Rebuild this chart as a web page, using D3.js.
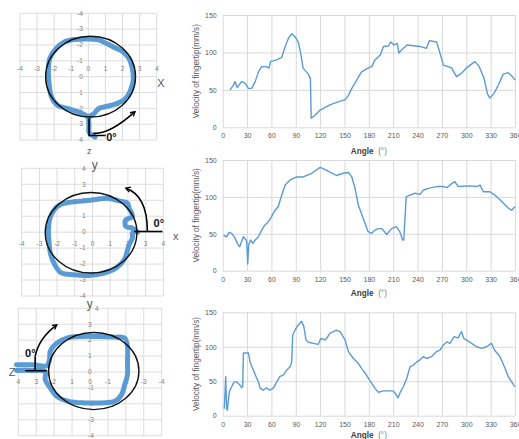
<!DOCTYPE html>
<html>
<head>
<meta charset="utf-8">
<script src="https://cdn.jsdelivr.net/npm/d3@7"></script>
<style>
body { margin: 0; background: #fff; }
text { font-family: "Liberation Sans", Arial, sans-serif; }
</style>
</head>
<body>
<script>
// tick values
var angleTicks = d3.range(0, 361, 30);
var velTicks = [0, 50, 100, 150];
var posTicks = [-4, -3, -2, -1, 0, 1, 2, 3, 4];

// fingertip velocity vs angle, one series per row
var vel1 = [[9,50],[13,56],[15,61],[18,53],[23,61],[27.5,59],[31.6,52],[35.7,52],[40,61],[44,74],[48,81],[54,81],[57,79],[59,88],[66.5,90],[72.7,93.5],[77,108],[81,119],[85,125],[89,121],[93,114],[96,99],[99,79],[105.5,71],[108,65],[109,12],[114,16.5],[120,23],[132,30],[142,34],[151,37],[155,43],[159,52],[165,63],[171,74],[179,79],[183.5,81],[187.6,90],[194,96.5],[198,108],[204,108.6],[207,114],[211,110],[215,112],[217,99],[220,103],[227,110],[243,108],[251,105.5],[254.5,115.7],[263.5,114],[267.6,99],[271.8,83],[278,81],[282,79],[288,67.6],[294,72],[300,79],[304.6,83],[310.8,87.7],[316,81],[322,65],[326,45],[329,39],[334,45],[339.5,56.5],[345.6,71],[351.8,73],[357,67.6],[360,63]];
var vel2 = [[1,48],[5,46],[8,52],[11,50.6],[15,44.7],[18,37],[21,32.5],[23,39],[25.5,46],[28.7,41.6],[29.6,39],[30.8,9],[32,35],[34.5,41.6],[37,37],[40,41.6],[44,46],[48,55],[52,62],[56,66],[60,73],[64.5,82],[68.5,87],[72.7,102.6],[77,116],[83,123],[91,127],[99,127],[109.6,132],[120,140],[128,136],[140,129],[148.6,132],[155,133],[159,127],[163,111.6],[167,89],[173,71],[179,53],[183.5,50.6],[187.6,55],[191.7,57],[196,57],[202,49],[208,57],[214,59.6],[218,53],[221.7,41.6],[223,41.6],[226,100],[231,102.6],[237,105],[243,103.5],[247,109],[253,111.6],[263.5,114],[272,114],[276,112.5],[282,118],[286,120.6],[290,114],[304.6,115],[313,114],[317,116],[321,107],[329,107],[334,103.5],[341.5,96],[348,89],[352,84.5],[356,82],[360,87]];
var vel3 = [[2,10],[3.7,57],[4.9,10],[5.7,8],[8.2,35],[11,42],[14,49],[17.2,49],[21.3,44.5],[23.4,40.6],[24.6,42],[25.5,91],[31.6,91],[33.7,78],[37.8,66],[41,57],[44,49],[46,40],[50,37],[54,40.6],[58,37],[62.4,40],[66.5,49],[70.6,57],[74.7,59],[78.8,66],[83,71],[85,78],[86.2,117],[89,124],[93,131.6],[97.3,137],[100,129],[102.6,110],[105.5,106.5],[111.7,105],[117.8,103.5],[120.7,112],[126,110],[128,112],[132,119.5],[140,124],[144.5,122],[150.7,110],[154.8,93],[161,83],[167,76],[171,68.7],[177,59],[183.5,47],[187.6,39.7],[191.7,34],[198,36],[204,36],[210,36],[214,30],[216,26],[219,35],[222.5,42],[226.6,54],[230.7,71],[234.8,73.5],[239,78],[243,81],[247,85.6],[251,83],[257,85.6],[263.5,93],[267.6,95],[271.8,102.6],[276,107],[280,105],[285,114.7],[290,113],[294,122],[297,112],[300,110],[306.6,105],[312.8,100],[319,97.7],[325,100],[331,105],[335,95],[341.5,85.6],[347.7,68.7],[351.8,56.6],[358,45],[360,42]];

// fingertip trajectories (grid units) and fitted circles
var trace1 = [[0.39,3.82],[0.04,3.5],[0.04,3.08],[0.04,2.55],[0.33,2.33],[0.62,2.01],[1.11,1.87],[1.7,1.69],[2.18,1.38],[2.47,0.85],[2.63,0.21],[2.57,-0.54],[2.37,-1.17],[1.99,-1.59],[1.5,-1.85],[1.01,-2.13],[0.53,-2.34],[-0.16,-2.38],[-0.84,-2.34],[-1.43,-2.17],[-1.91,-1.75],[-2.25,-1.17],[-2.34,-0.43],[-2.3,0.42],[-2.16,1.27],[-1.81,1.8],[-1.23,2.01],[-0.55,2.23],[-0.16,2.44],[0.04,2.63]];
var trace2 = [[2.54,0],[2.26,0.25],[1.88,0.35],[1.88,0.77],[2.26,0.98],[2.07,1.5],[1.98,1.81],[1.5,1.96],[0.85,2.13],[0.28,2.06],[-0.47,1.96],[-1.23,1.88],[-1.79,1.75],[-2.17,1.39],[-2.4,0.88],[-2.49,0.14],[-2.45,-0.69],[-2.36,-1.42],[-2.13,-2.04],[-1.79,-2.53],[-1.04,-2.67],[-0.19,-2.71],[0.66,-2.56],[1.32,-2.25],[1.79,-1.73],[2.07,-0.79],[2.26,-0.36],[2.26,-0.04],[2.54,0.02]];
var trace3 = [[4.1,0.45],[3.2,0.45],[2.4,0.4],[2.25,0.85],[2.22,1.29],[1.85,1.81],[1.29,2.13],[0.46,2.23],[-0.47,2.23],[-1.39,2.19],[-1.94,2.13],[-2.09,1.6],[-2.09,0.66],[-2.09,-0.17],[-1.94,-0.79],[-1.76,-1.42],[-1.39,-1.84],[-0.65,-1.94],[0.28,-1.94],[1.2,-1.84],[1.85,-1.53],[2.22,-1.0],[2.5,-0.48],[2.5,0.02],[3.2,0.1],[4.1,0.1]];
var circle1 = [0.13, 0, 2.63, 2.55];
var circle2 = [-0.08, -0.04, 2.59, 2.52];
var circle3 = [-0.21, 0.06, 2.52, 2.42];

var svg = d3.select("body").append("svg")
  .attr("width", 519)
  .attr("height", 439);

svg.append("defs").append("marker")
  .attr("id", "arrow")
  .attr("viewBox", "0 0 10 10")
  .attr("refX", 8).attr("refY", 5)
  .attr("markerWidth", 4).attr("markerHeight", 4)
  .attr("orient", "auto")
  .append("path")
  .attr("d", "M1,1 L8,5 L1,9")
  .attr("fill", "none")
  .attr("stroke", "#000")
  .attr("stroke-width", 2);

// ---------- left: trajectory panels ----------
var panels = [
  { trace: trace1, circle: circle1, xd: [-4, 4], xr: [20, 156.7], yd: [-4, 4], yr: [13.3, 140],
    xLabDy: -8.4, yLabDx: -5.5, yAnchor: "end", topDx: 0,
    bar: [[[0.04,2.63],[0.04,3.72],[1.01,3.72]]],
    arc: [[0.29,3.58],[1.25,3.65],[2.73,2.21]],
    deg: [1.35,3.85],
    names: [{t:"X", p:[4.25,0.4], s:11}, {t:"z", p:[0.05,4.7], s:9}] },
  { trace: trace2, circle: circle2, xd: [-4, 4], xr: [21.7, 163.3], yd: [-4, 4], yr: [296, 168.3],
    xLabDy: 12, yLabDx: -7, yAnchor: "end", topDx: 0,
    bar: [[[2.35,0.04],[3.95,0.04]]],
    arc: [[3.1,0.04],[3.1,2.3],[1.88,2.75]],
    deg: [3.75,0.56],
    names: [{t:"x", p:[4.7,-0.27], s:11}, {t:"y", p:[0.13,4.25], s:12}] },
  { trace: trace3, circle: circle3, xd: [4, -4], xr: [18.3, 161.7], yd: [-4, 4], yr: [435.7, 308.3],
    xLabDy: 9.7, yLabDx: -2, yAnchor: "start", topDx: 7,
    bar: [[[3.61,0.08],[2.41,0.08]], [[3.06,0.08],[3.06,0.98]]],
    arc: [[3.06,0.98],[2.85,2.14],[1.85,2.96]],
    deg: [3.33,1.2],
    names: [{t:"Z", p:[4.35,0.02], s:11}, {t:"y", p:[0.02,4.3], s:12}] }
];

panels.forEach(function(p) {
  var x = d3.scaleLinear().domain(p.xd).range(p.xr);
  var y = d3.scaleLinear().domain(p.yd).range(p.yr);
  var g = svg.append("g");

  g.selectAll("line.v").data(posTicks).enter().append("line")
    .attr("x1", function(d) { return x(d); }).attr("x2", function(d) { return x(d); })
    .attr("y1", y(-4)).attr("y2", y(4))
    .attr("stroke", "#dcdcdc").attr("stroke-width", 1);
  g.selectAll("line.h").data(posTicks).enter().append("line")
    .attr("y1", function(d) { return y(d); }).attr("y2", function(d) { return y(d); })
    .attr("x1", x(-4)).attr("x2", x(4))
    .attr("stroke", "#dcdcdc").attr("stroke-width", 1);

  g.selectAll("text.xl").data(posTicks).enter().append("text")
    .attr("x", function(d) { return x(d); })
    .attr("y", y(0) + p.xLabDy)
    .attr("dy", "0.35em")
    .attr("text-anchor", "middle")
    .attr("font-size", 6.5).attr("fill", "#808080")
    .text(function(d) { return d; });
  g.selectAll("text.yl").data(posTicks).enter().append("text")
    .attr("x", function(d) { return x(0) + p.yLabDx + (d === 4 ? p.topDx : 0); })
    .attr("y", function(d) { return y(d); })
    .attr("dy", "0.35em")
    .attr("text-anchor", p.yAnchor)
    .attr("font-size", 6.5).attr("fill", "#808080")
    .text(function(d) { return d; });

  g.append("path")
    .datum(p.trace)
    .attr("d", d3.line().x(function(d) { return x(d[0]); }).y(function(d) { return y(d[1]); })
      .curve(d3.curveCatmullRom.alpha(0.5)))
    .attr("fill", "none")
    .attr("stroke", "#5b9bd5")
    .attr("stroke-width", 5)
    .attr("stroke-linecap", "round")
    .attr("stroke-linejoin", "round");

  var c = p.circle;
  g.append("ellipse")
    .attr("cx", x(c[0])).attr("cy", y(c[1]))
    .attr("rx", Math.abs(x(c[0] + c[2]) - x(c[0])))
    .attr("ry", Math.abs(y(c[1] + c[3]) - y(c[1])))
    .attr("fill", "none").attr("stroke", "#111").attr("stroke-width", 1.4);

  p.bar.forEach(function(b) {
    g.append("path")
      .attr("d", d3.line().x(function(d) { return x(d[0]); }).y(function(d) { return y(d[1]); })(b))
      .attr("fill", "none").attr("stroke", "#000").attr("stroke-width", 1.6);
  });
  var a = d3.path();
  a.moveTo(x(p.arc[0][0]), y(p.arc[0][1]));
  a.quadraticCurveTo(x(p.arc[1][0]), y(p.arc[1][1]), x(p.arc[2][0]), y(p.arc[2][1]));
  g.append("path")
    .attr("d", a.toString())
    .attr("fill", "none").attr("stroke", "#000").attr("stroke-width", 1.6)
    .attr("marker-end", "url(#arrow)");

  g.append("text")
    .attr("x", x(p.deg[0])).attr("y", y(p.deg[1]))
    .attr("dy", "0.35em").attr("text-anchor", "middle")
    .attr("font-size", 11).attr("font-weight", "bold").attr("fill", "#111")
    .text("0°");

  p.names.forEach(function(n) {
    g.append("text")
      .attr("x", x(n.p[0])).attr("y", y(n.p[1]))
      .attr("dy", "0.35em").attr("text-anchor", "middle")
      .attr("font-size", n.s).attr("fill", "#595959")
      .text(n.t);
  });
});

// ---------- right: velocity charts ----------
var charts = [
  { data: vel1, top: 15, bottom: 127.3, titleY: 151 },
  { data: vel2, top: 160, bottom: 270.7, titleY: 293.3 },
  { data: vel3, top: 312.3, bottom: 415.7, titleY: 435 }
];
var left = 222.7, right = 515;

charts.forEach(function(ch) {
  var x = d3.scaleLinear().domain([0, 360]).range([left, right]);
  var y = d3.scaleLinear().domain([0, 150]).range([ch.bottom, ch.top]);
  var g = svg.append("g");

  var xAxis = d3.axisBottom(x).tickValues(angleTicks)
    .tickSize(-(ch.bottom - ch.top)).tickPadding(6);
  var yAxis = d3.axisLeft(y).tickValues(velTicks)
    .tickSize(-(right - left)).tickPadding(6);

  var gx = g.append("g").attr("transform", "translate(0," + ch.bottom + ")").call(xAxis);
  var gy = g.append("g").attr("transform", "translate(" + left + ",0)").call(yAxis);
  [gx, gy].forEach(function(ax) {
    ax.select(".domain").remove();
    ax.selectAll(".tick line").attr("stroke", "#d9d9d9");
    ax.selectAll(".tick text").attr("font-size", 7).attr("fill", "#595959")
      .attr("font-family", "Liberation Sans, Arial, sans-serif");
  });

  g.append("path")
    .datum(ch.data)
    .attr("d", d3.line().x(function(d) { return x(d[0]); }).y(function(d) { return y(d[1]); }))
    .attr("fill", "none")
    .attr("stroke", "#5b9bd5")
    .attr("stroke-width", 1.4)
    .attr("stroke-linejoin", "round");

  g.append("text")
    .attr("transform", "translate(196," + ((ch.top + ch.bottom) / 2) + ") rotate(-90)")
    .attr("text-anchor", "middle")
    .attr("dy", "0.35em")
    .attr("font-size", 8.2).attr("fill", "#595959")
    .text("Velocity of fingertip(mm/s)");

  var t = g.append("text")
    .attr("x", (left + right) / 2).attr("y", ch.titleY)
    .attr("dy", "0.35em")
    .attr("text-anchor", "middle")
    .attr("font-size", 8.2).attr("fill", "#404040");
  t.append("tspan").attr("font-weight", "bold").text("Angle");
  t.append("tspan").attr("fill", "#7f7f7f").text("\u00a0\u00a0(°)");
});
</script>
</body>
</html>
